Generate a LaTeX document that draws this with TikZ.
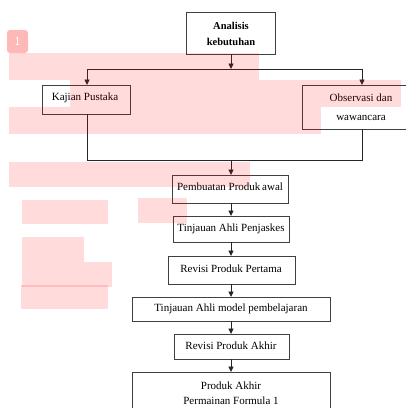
\documentclass[tikz,border=0pt]{standalone}
\usepackage{fontspec}
\setmainfont{Liberation Serif}
\usetikzlibrary{arrows.meta}
\begin{document}
\begin{tikzpicture}[x=1pt,y=-1pt,
  box/.style={draw=black!75,line width=1pt,fill=white},
  lbl/.style={font=\fontsize{11}{12}\selectfont,text=black,inner sep=0pt,align=center},
  conn/.style={draw=black!85,line width=0.9pt},
  arr/.style={conn,-{Triangle[length=5.5pt,width=5pt]}},
  pinkmark/.style={fill=red,fill opacity=0.14,draw=none}]
\useasboundingbox (0,0) rectangle (406,408);
\fill[white] (0,0) rectangle (406,408);
% boxes
\draw[box] (186,12) rectangle (275,54);
\node[lbl,font=\fontsize{10.5}{16}\selectfont\bfseries] (ta) at (231,34) {Analisis\\kebutuhan};
\draw[box] (42,85) rectangle (130,114);
\node[lbl] (tk) at (85,98) {Kajian Pustaka};
\draw[box] (302,85) rectangle (412,129);
\node[lbl,font=\fontsize{11}{19}\selectfont] (to) at (361,107) {Observasi dan\\wawancara};
\draw[box] (172,175) rectangle (288,203);
\node[lbl] (tp) at (230,187) {Pembuatan Produk\hspace{-1pt} awal};
\draw[box] (173,216) rectangle (289,242);
\node[lbl] (t1) at (231,229) {Tinjauan Ahli Penjaskes};
\draw[box] (168,256) rectangle (295,284);
\node[lbl] (r1) at (231,269) {Revisi Produk Pertama};
\draw[box] (132,297) rectangle (330,321);
\node[lbl] (t2) at (231,309) {Tinjauan Ahli model pembelajaran};
\draw[box] (174,334) rectangle (289,359);
\node[lbl] (r2) at (231,346) {Revisi Produk Akhir};
\draw[box] (132,372) rectangle (330,416);
\node[lbl,font=\fontsize{11}{15}\selectfont] (fa) at (231,393) {Produk Akhir\\Permainan Formula 1};
% named anchor coordinates
\coordinate (Ab) at (231,54);
\coordinate (J1) at (231,69);
\coordinate (J1l) at (87,69);
\coordinate (J1r) at (362,69);
\coordinate (Kt) at (87,85);
\coordinate (Ot) at (362,85);
\coordinate (Kb) at (87,114);
\coordinate (Ob) at (362,129);
\coordinate (J2l) at (87,160);
\coordinate (J2r) at (362,160);
\coordinate (J2) at (231,160);
\coordinate (Pt) at (231,175);
\coordinate (Pb) at (231,203);
\coordinate (T1t) at (231,216);
\coordinate (T1b) at (231,242);
\coordinate (R1t) at (231,256);
\coordinate (R1b) at (231,284);
\coordinate (T2t) at (231,297);
\coordinate (T2b) at (231,321);
\coordinate (R2t) at (231,334);
\coordinate (R2b) at (231,359);
\coordinate (Ft) at (231,372);
% connectors
\draw[arr] (Ab) -- (J1);
\draw[conn] (J1l) -- (J1r);
\draw[arr] (J1l) -- (Kt);
\draw[arr] (J1r) -- (Ot);
\draw[conn] (Kb) -- (J2l) -- (J2r) -- (Ob);
\draw[arr] (J2) -- (Pt);
\draw[arr] (Pb) -- (T1t);
\draw[arr] (T1b) -- (R1t);
\draw[arr] (R1b) -- (T2t);
\draw[arr] (T2b) -- (R2t);
\draw[arr] (R2b) -- (Ft);
% overlay marks
\fill[red,fill opacity=0.28,rounded corners=3pt] (7,30) rectangle (28,53);
\node[text=white,font=\fontsize{12}{12}\sffamily,inner sep=0pt] (badge) at (17.5,41.5) {1};
\fill[pinkmark] (9,53) rectangle (259,80);
\fill[pinkmark] (70,80) rectangle (401,107);
\fill[pinkmark] (9,107) rectangle (321,134);
\fill[pinkmark] (9,162) rectangle (250,187);
\fill[pinkmark] (138,198) rectangle (187,223);
\fill[pinkmark] (22,200) rectangle (108,224);
\fill[pinkmark] (22,237) rectangle (84,262);
\fill[pinkmark] (22,262) rectangle (112,287);
\fill[pinkmark] (21,285) rectangle (108,309);
\end{tikzpicture}
\end{document}
